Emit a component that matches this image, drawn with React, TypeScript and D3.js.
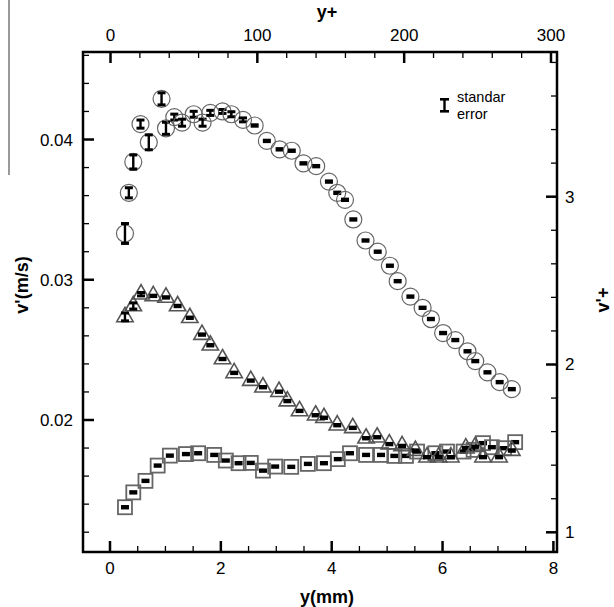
import React from "react";
import * as d3 from "d3";

// ---------- data ----------
const circleX = [0.27,0.34,0.42,0.55,0.70,0.93,1.01,1.16,1.30,1.51,1.67,1.81,2.03,2.19,2.40,2.61,2.83,3.06,3.28,3.49,3.72,3.95,4.10,4.24,4.39,4.61,4.83,5.05,5.19,5.42,5.64,5.79,6.01,6.23,6.45,6.59,6.81,7.03,7.25];
const circleV = [0.0333,0.0362,0.0384,0.0411,0.0398,0.0429,0.0408,0.0416,0.0412,0.0418,0.0412,0.0419,0.0420,0.0418,0.0414,0.0410,0.0399,0.0393,0.0392,0.0383,0.0381,0.0370,0.0362,0.0357,0.0343,0.0328,0.0320,0.0310,0.0299,0.0288,0.0280,0.0272,0.0262,0.0257,0.0249,0.0242,0.0234,0.0227,0.0222];
const circleErr = [0.00071,0.00036,0.0005,0.00029,0.00053,0.00043,0.00043,0.00021,0.00025,0.00021,0.00025,0.00018,0.00014,0.00018,0.00014,0.00008,0.00008,0.00008,0.00008,0.00008,0.00008,0.00008,0.00008,0.00008,0.00008,0.00008,0.00008,0.00008,0.00008,0.00008,0.00008,0.00008,0.00008,0.00008,0.00008,0.00008,0.00008,0.00008,0.00008];

const triX = [0.27,0.42,0.56,0.78,1.01,1.22,1.44,1.66,1.81,2.03,2.24,2.54,2.76,3.05,3.20,3.42,3.71,3.86,4.10,4.38,4.62,4.82,5.04,5.27,5.51,5.72,5.93,6.15,6.42,6.59,6.73,7.02,7.25];
const triV = [0.02735,0.02813,0.02897,0.02885,0.02874,0.02813,0.02729,0.02609,0.02533,0.02435,0.02336,0.02281,0.02234,0.02202,0.02135,0.02065,0.02034,0.02016,0.01963,0.01944,0.01870,0.01877,0.01828,0.01815,0.01782,0.01735,0.01735,0.01735,0.01799,0.01810,0.01735,0.01735,0.01782];
const triErr = [0.00028,0.00022,0.00012,0.0001,0.0001,0.0001,0.00008,0.00008,0.00008,0.00008,0.00008,0.00008,0.00008,0.00008,0.00008,0.00008,0.00008,0.00008,0.00008,0.00008,0.00008,0.00008,0.00008,0.00008,0.00008,0.00008,0.00008,0.00008,0.00008,0.00008,0.00008,0.00008,0.00008];

const sqX = [0.27,0.42,0.64,0.86,1.08,1.37,1.59,1.88,2.09,2.32,2.54,2.76,2.98,3.27,3.57,3.86,4.11,4.33,4.62,4.89,5.13,5.34,5.54,5.87,6.08,6.38,6.56,6.73,6.89,7.11,7.31];
const sqV = [0.01378,0.01484,0.01566,0.01675,0.01746,0.01757,0.01763,0.01751,0.01711,0.01692,0.01694,0.01639,0.01668,0.01666,0.01687,0.01692,0.01721,0.01763,0.01751,0.01751,0.01744,0.01744,0.01775,0.01763,0.01775,0.01775,0.01787,0.01835,0.01806,0.01799,0.01842];
const sqErr = sqV.map(() => 0.00008);

const bottomTicks = [0, 2, 4, 6, 8];
const topTicks = [0, 100, 200, 300];
const leftTicks = [0.02, 0.03, 0.04];
const rightTicks = [1, 2, 3];

// ---------- layout ----------
const W = 614, H = 607;
const L = 83, R = 557, T = 52, B = 552;
const FONT = "'Liberation Sans', Arial, sans-serif";

const x = d3.scaleLinear().domain([-0.4872, 8.065]).range([L, R]);
const xTop = d3.scaleLinear().domain([-18.73, 304.09]).range([L, R]);
const y = d3.scaleLinear().domain([0.010588, 0.04624]).range([B, T]);
const yRight = d3.scaleLinear().domain([0.8826, 3.8623]).range([B, T]);

function range(a: number, b: number, s: number) {
  const out: number[] = [];
  for (let v = a; v <= b + 1e-9; v += s) out.push(+v.toFixed(6));
  return out;
}

function ErrMark({ cx, v, e }: { cx: number; v: number; e: number }) {
  const y1 = y(v + e), y2 = y(v - e);
  const h = y2 - y1;
  if (h < 3) {
    return <rect x={cx - 4} y={y(v) - 2.2} width={8} height={4.4} fill="#000" />;
  }
  return (
    <g fill="#000">
      <rect x={cx - 4} y={y1 - 1.5} width={8} height={3} />
      <rect x={cx - 4} y={y2 - 1.5} width={8} height={3} />
      <rect x={cx - 1.2} y={y1} width={2.4} height={h} />
    </g>
  );
}

export default function App() {
  const ticks: any[] = [];
  range(0, 8, 0.5).forEach((t, i) => {
    const major = bottomTicks.includes(t);
    ticks.push(<line key={"b" + i} x1={x(t)} x2={x(t)} y1={B} y2={B - (major ? 11 : 6)} stroke="#000" strokeWidth={major ? 2.5 : 1.3} />);
  });
  range(0, 300, 20).forEach((t, i) => {
    const major = topTicks.includes(t);
    ticks.push(<line key={"t" + i} x1={xTop(t)} x2={xTop(t)} y1={T} y2={T + (major ? 11 : 6)} stroke="#000" strokeWidth={major ? 2.5 : 1.3} />);
  });
  range(0.012, 0.046, 0.002).forEach((t, i) => {
    const major = leftTicks.some((m) => Math.abs(m - t) < 1e-6);
    ticks.push(<line key={"l" + i} x1={L} x2={L + (major ? 11 : 6)} y1={y(t)} y2={y(t)} stroke="#000" strokeWidth={major ? 2.5 : 1.3} />);
  });
  range(1, 3.8, 0.2).forEach((t, i) => {
    const major = rightTicks.some((m) => Math.abs(m - t) < 1e-6);
    ticks.push(<line key={"r" + i} x1={R} x2={R - (major ? 11 : 6)} y1={yRight(t)} y2={yRight(t)} stroke="#000" strokeWidth={major ? 2.5 : 1.3} />);
  });

  const triPath = (cx: number, cy: number) =>
    `M${cx},${cy - 9.5} L${cx + 8.2},${cy + 4.8} L${cx - 8.2},${cy + 4.8} Z`;

  return (
    <svg width={W} height={H} style={{ position: "absolute", left: 0, top: 0, background: "#fff" }} fontFamily={FONT}>
      <rect x={0} y={0} width={W} height={H} fill="#fff" />
      <line x1={9} x2={9} y1={0} y2={175} stroke="#777" strokeWidth={1.5} />

      {sqX.map((d, i) => (
        <g key={"s" + i}>
          <rect x={x(d) - 7} y={y(sqV[i]) - 7} width={14} height={14} fill="none" stroke="#666" strokeWidth={1.8} />
          <ErrMark cx={x(d)} v={sqV[i]} e={sqErr[i]} />
        </g>
      ))}
      {triX.map((d, i) => (
        <g key={"tr" + i}>
          <path d={triPath(x(d), y(triV[i]))} fill="none" stroke="#555" strokeWidth={1.6} />
          <ErrMark cx={x(d)} v={triV[i]} e={triErr[i]} />
        </g>
      ))}
      {circleX.map((d, i) => (
        <g key={"c" + i}>
          <circle cx={x(d)} cy={y(circleV[i])} r={8.5} fill="none" stroke="#666" strokeWidth={1.2} />
          <ErrMark cx={x(d)} v={circleV[i]} e={circleErr[i]} />
        </g>
      ))}

      <rect x={L} y={T} width={R - L} height={B - T} fill="none" stroke="#000" strokeWidth={2.5} />
      {ticks}

      {bottomTicks.map((t) => (
        <text key={"bl" + t} x={x(t)} y={B + 22} textAnchor="middle" fontSize={17}>{t}</text>
      ))}
      {topTicks.map((t) => (
        <text key={"tl" + t} x={xTop(t)} y={T - 11} textAnchor="middle" fontSize={17}>{t}</text>
      ))}
      {leftTicks.map((t) => (
        <text key={"ll" + t} x={L - 10} y={y(t) + 6} textAnchor="end" fontSize={17}>{t.toFixed(2)}</text>
      ))}
      {rightTicks.map((t) => (
        <text key={"rl" + t} x={R + 8} y={yRight(t) + 6} textAnchor="start" fontSize={17}>{t}</text>
      ))}

      <text x={327} y={603} textAnchor="middle" fontSize={18} fontWeight="bold">y(mm)</text>
      <text x={327} y={18} textAnchor="middle" fontSize={18} fontWeight="bold">y+</text>
      <text transform={`translate(28,285) rotate(-90)`} textAnchor="middle" fontSize={18} fontWeight="bold">v'(m/s)</text>
      <text transform={`translate(609,300) rotate(-90)`} textAnchor="middle" fontSize={18} fontWeight="bold">v'+</text>

      <g fill="#000">
        <rect x={440} y={98} width={9} height={2.6} />
        <rect x={440} y={110} width={9} height={2.6} />
        <rect x={443.3} y={98} width={2.4} height={14} />
      </g>
      <text x={457} y={102} fontSize={14.5}>standar</text>
      <text x={457} y={119} fontSize={14.5}>error</text>
    </svg>
  );
}
